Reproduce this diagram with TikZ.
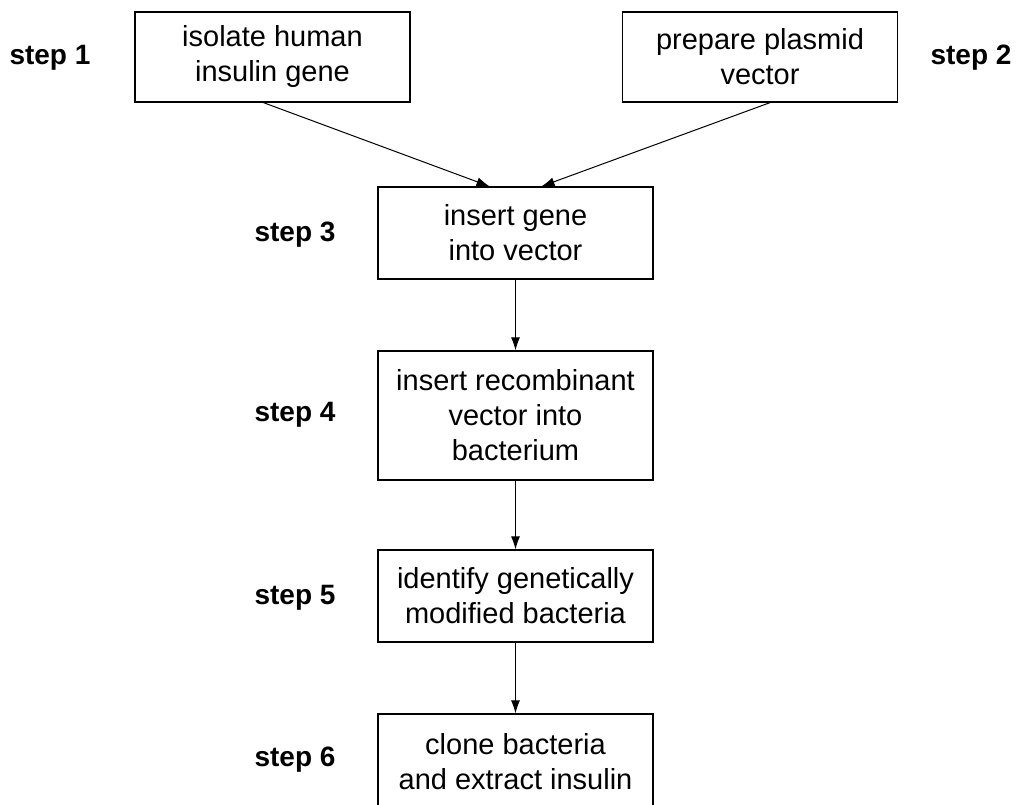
\documentclass[tikz,border=0pt]{standalone}
\usepackage{fontspec}
\setmainfont{Liberation Sans}
\usetikzlibrary{arrows.meta}
\tikzset{
  stepbox/.style={draw,line width=1.3pt,minimum width=275pt,align=center,inner sep=0pt,
    font=\fontsize{29}{35}\selectfont},
  steplabel/.style={font=\bfseries\fontsize{28}{34}\selectfont},
  flow/.style={line width=1pt,-{Latex[length=13pt,width=9pt]}}
}
\begin{document}
\begin{tikzpicture}[x=1pt,y=-1pt]
    \clip (0,0) rectangle (1018,805);
    % boxes
    \node[stepbox,minimum height=90pt] (isolate) at (272.5,57) {isolate human\\insulin gene};
    \node[stepbox,minimum height=90pt] (prepare) at (760,57) {prepare plasmid\\vector};
    \node[stepbox,minimum height=92pt] (insert) at (515.5,233) {insert gene\\into vector};
    \node[stepbox,minimum height=129pt] (recomb) at (515.5,415.5) {insert recombinant\\vector into\\bacterium};
    \node[stepbox,minimum height=92pt] (identify) at (515.5,596) {identify genetically\\modified bacteria};
    \node[stepbox,minimum height=96pt] (clone) at (515.5,762) {clone bacteria\\and extract insulin};
    % step labels
    \node[steplabel] (s1) at (50,58) {step 1};
    \node[steplabel] (s2) at (971,58) {step 2};
    \node[steplabel] (s3) at (295,235) {step 3};
    \node[steplabel] (s4) at (295,415) {step 4};
    \node[steplabel] (s5) at (295,598) {step 5};
    \node[steplabel] (s6) at (295,760) {step 6};
    % arrows
    \draw[flow] ([xshift=-9pt]isolate.south) -- ([xshift=-26pt]insert.north);
    \draw[flow] ([xshift=10pt]prepare.south) -- ([xshift=26pt]insert.north);
    \draw[flow] (insert) -- (recomb);
    \draw[flow] (recomb) -- (identify);
    \draw[flow] (identify) -- (clone);
\end{tikzpicture}
\end{document}
